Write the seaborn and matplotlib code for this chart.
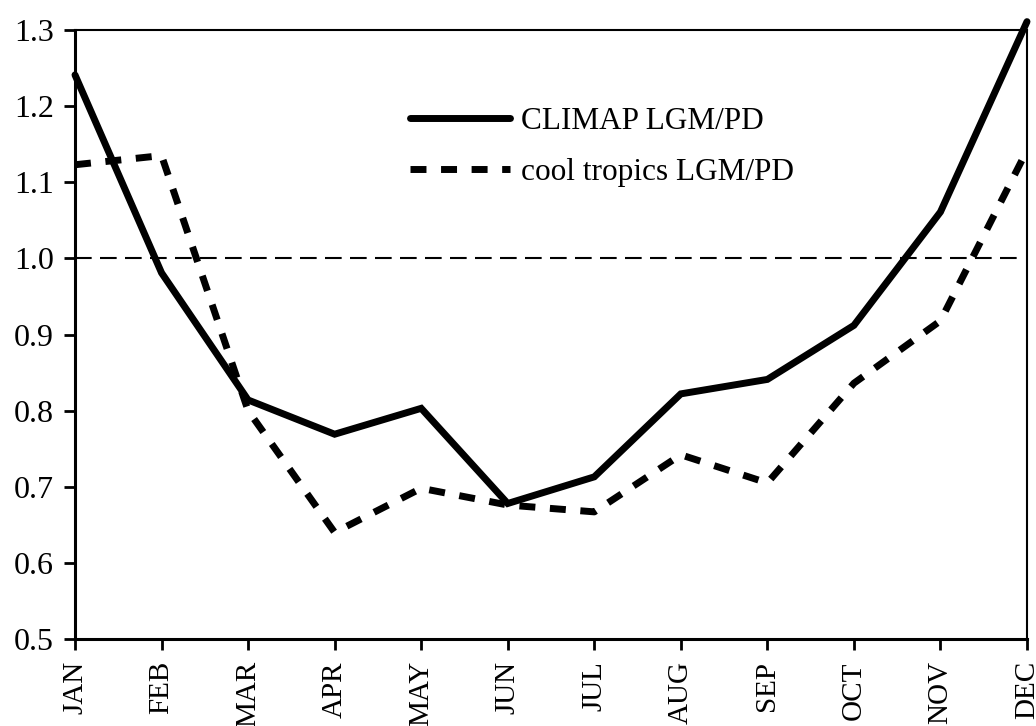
import numpy as np
import pandas as pd
import matplotlib
matplotlib.use("Agg")
import matplotlib.pyplot as plt
import seaborn as sns

# values
months = ['JAN', 'FEB', 'MAR', 'APR', 'MAY', 'JUN',
          'JUL', 'AUG', 'SEP', 'OCT', 'NOV', 'DEC']
climap = [1.241, 0.981, 0.814, 0.769, 0.803, 0.678,
          0.713, 0.822, 0.841, 0.912, 1.061, 1.311]
cool_tropics = [1.123, 1.135, 0.800, 0.640, 0.698, 0.676,
                0.667, 0.742, 0.705, 0.836, 0.918, 1.142]
ref_level = 1.0
y_ticks = [0.5, 0.6, 0.7, 0.8, 0.9, 1.0, 1.1, 1.2, 1.3]

df = pd.DataFrame({
    'pos': np.arange(len(months)),
    'CLIMAP LGM/PD': climap,
    'cool tropics LGM/PD': cool_tropics,
})

sns.set_theme(style="ticks")
plt.rcParams['font.family'] = ['Liberation Serif', 'DejaVu Serif']

fig = plt.figure(figsize=(10.36, 7.26), dpi=100)
ax = fig.add_axes([75 / 1036, 87 / 726, 952 / 1036, 609 / 726])

sns.lineplot(data=df, x='pos', y='CLIMAP LGM/PD', ax=ax, color='black',
             linewidth=5, label='CLIMAP LGM/PD', clip_on=False,
             solid_joinstyle='miter')
sns.lineplot(data=df, x='pos', y='cool tropics LGM/PD', ax=ax, color='black',
             linewidth=5, label='cool tropics LGM/PD', clip_on=False,
             dash_capstyle='butt')
ax.lines[-1].set_dashes((2.3, 2.1))

ax.axhline(ref_level, xmin=0, xmax=0.995, color='black', linewidth=1.5,
           dashes=(8, 4))

ax.set_xlim(0, len(months) - 1)
ax.set_ylim(0.5, 1.3)
ax.set_xticks(df['pos'])
ax.set_xticklabels(months, rotation=90, fontsize=21)
ax.set_yticks(y_ticks)
ax.set_yticklabels([f'{t:.1f}' for t in y_ticks], fontsize=23)
ax.set_xlabel('')
ax.set_ylabel('')
ax.tick_params(axis='both', direction='out', length=8, width=2,
               color='black', labelcolor='black')
ax.tick_params(axis='x', pad=8)
ax.tick_params(axis='y', pad=7)

for side in ['left', 'bottom']:
    ax.spines[side].set_linewidth(2.2)
for side in ['top', 'right']:
    ax.spines[side].set_visible(True)
    ax.spines[side].set_linewidth(1.5)
for sp in ax.spines.values():
    sp.set_color('black')

leg = ax.legend(loc='upper left', bbox_to_anchor=(0.352, 0.874),
                frameon=False, fontsize=22.5, handlelength=3.2,
                handletextpad=0.35, borderpad=0, borderaxespad=0,
                labelspacing=0.72)
for t in leg.get_texts():
    t.set_color('black')

fig.savefig('out.png', dpi=100)
